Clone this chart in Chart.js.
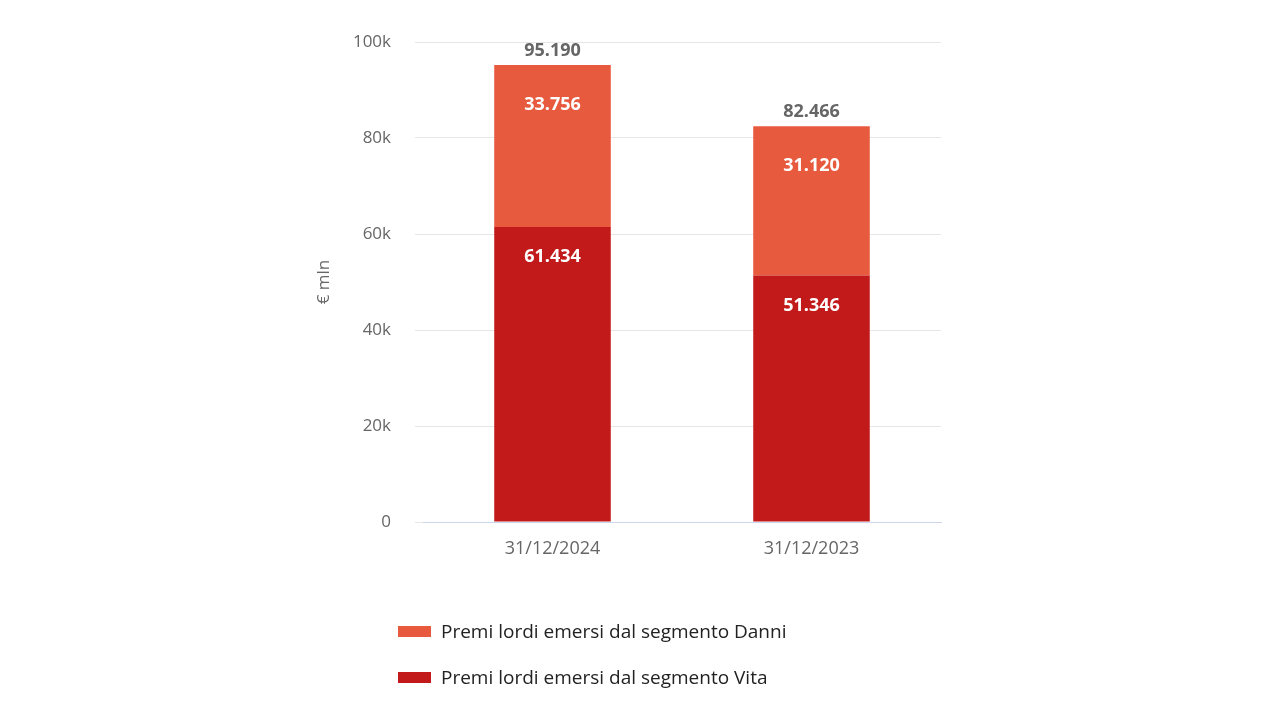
<!DOCTYPE html>
<html><head><meta charset="utf-8">
<script src="https://cdn.jsdelivr.net/npm/chart.js@4/dist/chart.umd.min.js"></script>
<style>
body{margin:0;background:#fff;font-family:"Open Sans",sans-serif;}
#wrap{position:relative;width:1280px;height:720px;}
#legend{position:absolute;left:398px;top:608px;font-size:19px;color:#222;}
#legend div{display:flex;align-items:center;height:46px;}
#legend span.b{display:inline-block;width:33px;height:11px;margin-right:10px;}
</style></head><body>
<div id="wrap"><canvas id="c" width="1280" height="720"></canvas>
<div id="legend"></div></div>
<script>
const categories=["31/12/2024","31/12/2023"];
const vita=[61434,51346];
const danni=[33756,31120];
const totals=[95190,82466];
const tickLabels={0:"0",20000:"20k",40000:"40k",60000:"60k",80000:"80k",100000:"100k"};
const fmt=v=>v.toLocaleString("it-IT");
const cVita="#c21a1a",cDanni="#e85a3e";
const labelsPlugin={id:"lbl",afterDatasetsDraw(ch){
 const ctx=ch.ctx;ctx.save();ctx.textAlign="center";ctx.textBaseline="middle";
 ctx.font="bold 18px 'Open Sans'";
 ch.data.datasets.forEach((ds,i)=>{ch.getDatasetMeta(i).data.forEach((b,j)=>{
  ctx.fillStyle="#fff";ctx.fillText(fmt(ds.data[j]),b.x,b.y+(i==0?30:40));});});
 const m=ch.getDatasetMeta(1);
 ctx.fillStyle="#666";
 m.data.forEach((b,j)=>ctx.fillText(fmt(totals[j]),b.x,b.y-14));
 ctx.restore();}};
new Chart(document.getElementById("c"),{type:"bar",
 data:{labels:categories,datasets:[
  {label:"Premi lordi emersi dal segmento Vita",data:vita,backgroundColor:cVita},
  {label:"Premi lordi emersi dal segmento Danni",data:danni,backgroundColor:cDanni}]},
 options:{responsive:false,animation:false,
  layout:{padding:{left:310,right:339,top:42,bottom:158}},
  plugins:{legend:{display:false},tooltip:{enabled:false}},
  datasets:{bar:{categoryPercentage:1,barPercentage:0.45}},
  scales:{
   x:{stacked:true,grid:{display:false},border:{color:"#ccd6eb"},
      ticks:{color:"#666",font:{size:18,family:"Open Sans"},padding:8},
      afterFit(s){s.height=40;}},
   y:{stacked:true,min:0,max:100000,border:{display:false},
      grid:{color:"#e6e6e6"},
      ticks:{stepSize:20000,color:"#666",font:{size:17,family:"Open Sans"},padding:24,
        callback:v=>tickLabels[v]},
      title:{display:true,text:"€ mln",color:"#666",font:{size:17,family:"Open Sans"}},
      afterFit(s){s.width=113;}}}},
 plugins:[labelsPlugin]});
const lg=document.getElementById("legend");
[["Premi lordi emersi dal segmento Danni",cDanni],["Premi lordi emersi dal segmento Vita",cVita]].forEach(([t,c])=>{
 const d=document.createElement("div");d.innerHTML='<span class="b" style="background:'+c+'"></span>'+t;lg.appendChild(d);});
</script></body></html>
